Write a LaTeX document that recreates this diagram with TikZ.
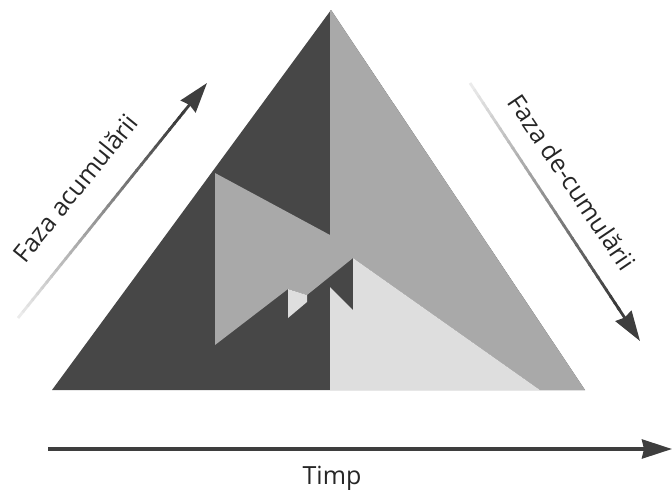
\documentclass[tikz,border=0pt]{standalone}
\usepackage{fontspec}
\setmainfont{Open Sans}
\usetikzlibrary{arrows.meta,calc}
\definecolor{dk}{HTML}{474747}
\definecolor{md}{HTML}{A9A9A9}
\definecolor{lt}{HTML}{DEDEDE}
\definecolor{ar}{HTML}{3E3E3E}
\begin{document}
\begin{tikzpicture}[x=1pt,y=-1pt,
  lbl/.style={font=\fontsize{25}{29}\selectfont, text=black!85, inner sep=0pt},
  head/.style={-{Stealth[length=30pt,width=19pt,inset=2pt]}}]
\useasboundingbox (0,0) rectangle (672,496);
% pyramid
\coordinate (A) at (331,10);
\coordinate (L) at (52,390);
\coordinate (R) at (585,390);
\fill[dk] (A)--(L)--(R)--cycle;
\fill[md] (331,10)--(585,390)--(540,390)--(353,258)--(307,295)--(288,289)--(215,345)--(215,173)--(330,235)--(330,10)--cycle;
\fill[lt] (288,289)--(307,295)--(307,302)--(288,318)--cycle;
\fill[lt] (330,287)--(353,310)--(353,258)--(540,390)--(330,390)--cycle;
% left arrow
\coordinate (la0) at (18,318);
\coordinate (la1) at (207,83);
\foreach \i in {0,...,34} {
  \pgfmathsetmacro\c{8+72*\i/35}
  \draw[line width=2.8pt, black!\c] ($(la0)!{\i/40}!(la1)$) -- ($(la0)!{(\i+1.2)/40}!(la1)$);
}
\draw[line width=2.8pt, ar, head] ($(la0)!0.87!(la1)$) -- (la1);
\node[lbl, rotate=51] (lt) at (75,188) {Faza acumulării};
% right arrow
\coordinate (ra0) at (470,83);
\coordinate (ra1) at (640,341);
\foreach \i in {0,...,34} {
  \pgfmathsetmacro\c{8+72*\i/35}
  \draw[line width=2.8pt, black!\c] ($(ra0)!{\i/40}!(ra1)$) -- ($(ra0)!{(\i+1.2)/40}!(ra1)$);
}
\draw[line width=2.8pt, ar, head] ($(ra0)!0.87!(ra1)$) -- (ra1);
\node[lbl, rotate=-56] (rt) at (572,182) {Faza de-cumulării};
% time arrow
\coordinate (t0) at (48,449);
\coordinate (t1) at (672,449);
\draw[line width=3.4pt, ar, head] (t0) -- (t1);
\node[lbl] (tt) at (332,478) {Timp};
\end{tikzpicture}
\end{document}
